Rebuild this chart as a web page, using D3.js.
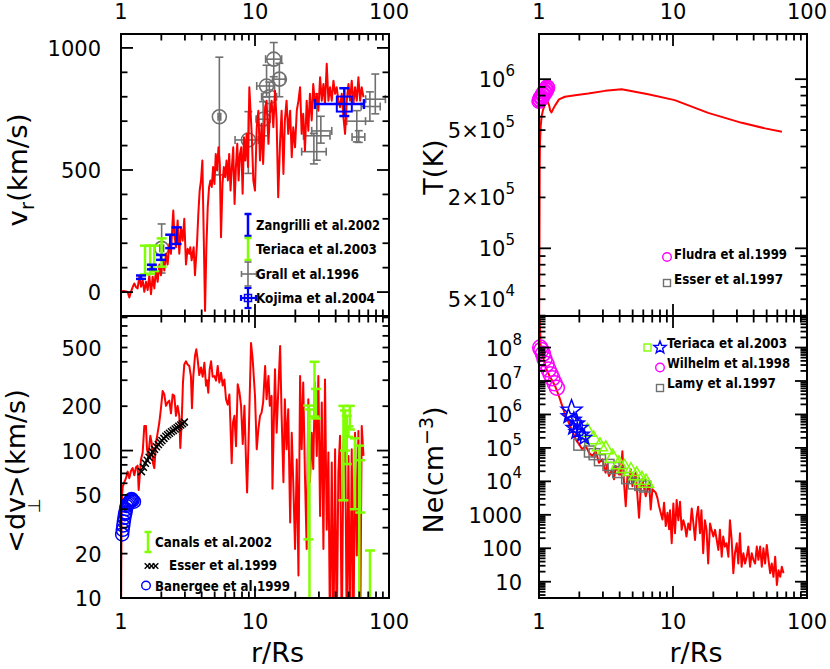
<!DOCTYPE html>
<html><head><meta charset="utf-8">
<script src="https://cdn.jsdelivr.net/npm/d3@7/dist/d3.min.js"></script>
<style>
html,body{margin:0;padding:0;background:#fff;}
svg{display:block;}
text{font-family:"DejaVu Sans",sans-serif;fill:#000;}
</style></head><body>
<svg id="chart" width="830" height="669"></svg>
<script>
// ---------------- tick labels ----------------
const xTickValues=[1,10,100];
const xTickLabels=["1","10","100"];
const vrTickValues=[0,500,1000];
const vrTickLabels=["0","500","1000"];
const dvTickValues=[10,20,50,100,200,500];
const dvTickLabels=["10","20","50","100","200","500"];
const tTickValues=[5e4,1e5,2e5,5e5,1e6];
const tTickBases=["5×10","10","2×10","5×10","10"];
const tTickExps=["4","5","5","5","6"];
const neTickValues=[10,100,1000,1e4,1e5,1e6,1e7,1e8];
const neTickBases=["10","100","1000","10","10","10","10","10"];
const neTickExps=["","","","4","5","6","7","8"];

// ---------------- model: radial velocity ----------------
const vrR=[1.000,1.030,1.059,1.090,1.121,1.154,1.188,1.222,1.257,1.294,1.331,1.370,1.410,1.451,1.493,1.536,1.581,1.627,1.674,1.723,1.773,1.824,1.877,1.932,1.988,2.046,2.105,2.166,2.229,2.294,2.360,2.429,2.456,2.499,2.572,2.646,2.723,2.802,2.884,2.967,3.054,3.142,3.233,3.289,3.366,3.484,3.565,3.690,3.776,3.864,3.955,4.047,4.141,4.238,4.337,4.438,4.542,4.648,4.756,4.867,4.981,5.097,5.216,5.338,5.462,5.576,5.720,5.854,5.990,6.130,6.273,6.419,6.569,6.722,6.879,7.040,7.204,7.372,7.544,7.720,7.900,8.085,8.273,8.466,8.664,8.866,9.073,
9.45,9.72,10.0,10.3,10.6,10.9,11.2,11.5,11.9,12.2,12.6,12.9,13.3,13.7,14.1,14.5,14.9,15.4,15.8,16.3,16.7,17.2,17.7,18.3,18.8,19.3,19.9,20.5,21.1,21.7,22.3,22.9,23.6,24.3,25.0,25.7,26.5,27.2,28.0,28.9,29.7,30.6,31.5,32.4,33.3,34.3,35.3,36.3,37.4,38.5,39.6,40.7,41.9,43.1,44.4,45.7,47.0,48.4,49.8,51.2,52.7,54.3,55.8,57.5,59.1,60.9,62.6,64.5];
const vrV=[5,3,4,2,0,-22,2,20,35,20,15,63,22,49,1,42,8,69,-9,63,15,93,42,113,69,130,88,157,113,197,157,293,334,238,184,293,157,266,211,300,113,177,157,184,130,184,69,197,320,416,457,539,238,-77,184,348,430,457,430,512,443,566,498,593,525,225,443,512,471,539,457,566,416,512,593,361,512,607,457,566,593,403,634,539,648,512,839,
648,457,416,675,743,539,689,525,757,784,607,730,784,675,825,703,388,620,743,484,703,784,648,743,552,675,593,743,784,839,648,730,579,784,661,812,703,852,771,812,743,880,784,852,771,935,784,839,784,866,812,839,784,757,812,716,648,784,852,784,866,771,839,784,880,784,839,798];

// observations for v_r
const zangR=[1.41,1.70,1.99,2.33,2.60];
const zangLo=[54,93,132,180,197];
const zangHi=[68,112,152,235,265];
const terVR=[1.51,1.65,1.77,2.01];
const terVLo=[72,75,86,104];
const terVHi=[190,190,190,220];
const grallR=[2.01,5.42,8.92,11.5,12.2,12.8,13.8,15.2,27.5,28.9,31.0,57.5,59.5,72.0,79.0];
const grallV=[179,718,623,708,844,800,954,872,575,640,660,700,635,760,790];
const grallRlo=[1.95,5.3,7.1,10.2,10.3,11.2,12.0,13.8,22.3,23.0,26.5,48.4,53.0,62.0,67.0];
const grallRhi=[2.08,5.55,10.6,13.0,14.0,14.5,15.8,16.8,34.0,36.3,37.4,66.8,66.0,86.0,94.0];
const grallVlo=[78,480,486,640,799,740,882,800,525,540,610,615,613,700,730];
const grallVhi=[279,962,739,780,929,860,1022,937,650,812,720,743,661,820,893];
const grallHasCircle=[1,1,1,1,1,1,1,1,0,0,0,0,0,0,0];
const kojR=[46.4], kojV=[770], kojRlo=[28.0], kojRhi=[65.0], kojVlo=[721], kojVhi=[835];

// ---------------- model: <dv_perp> ----------------
const dvR=[1.000,1.004,1.010,1.020,1.030,1.059,1.090,1.121,1.154,1.188,1.222,1.257,1.294,1.331,1.355,1.410,1.451,1.493,1.536,1.563,1.600,1.655,1.694,1.733,1.773,1.824,1.877,1.932,1.988,2.046,2.105,2.166,2.229,2.294,2.360,2.429,2.499,2.572,2.646,2.723,2.770,2.836,2.900,2.967,3.054,3.142,3.233,3.327,3.385,3.463,3.565,3.647,3.732,3.840,3.955,4.070,4.190,4.310,4.380,4.480,4.590,4.700,4.830,4.980,5.120,5.270,5.420,5.580,5.740,5.910,6.080,6.260,6.440,6.550,6.700,6.850,7.020,7.220,7.430,7.650,7.870,8.100,8.340,8.580,8.730,8.920,9.120,9.340,9.610,
10.0,10.3,10.6,10.9,11.2,11.5,11.9,12.2,12.6,12.9,13.3,13.5,13.9,14.1,14.5,14.9,15.4,15.8,16.3,16.7,17.2,17.7,18.3,18.8,19.3,19.9,20.5,21.1,21.7,22.3,22.9,23.6,24.3,25.0,25.7,26.5,27.2,28.0,28.9,29.7,30.6,31.5,32.4,33.3,34.3,35.3,36.3,37.4,38.5,39.6,40.7,41.9,43.1,44.4,45.7,47.0,48.4,49.8,51.2,52.7,54.3,55.8,57.5,59.1,60.9,62.6,64.5];
const dvV=[5,15,35,50,57,61,65,72,65,73,76,68,77,79,54,87,97,147,147,102,93,126,113,82,76,113,132,155,194,254,240,201,212,218,179,240,235,172,201,172,104,155,289,384,403,384,375,317,194,317,438,486,416,325,366,317,394,276,300,247,357,403,317,320,298,375,289,337,276,303,222,205,240,155,82,155,172,107,282,250,201,111,201,82,52,102,222,536,416,
235,102,140,172,181,212,375,223,321,201,235,55,201,356,132,247,512,172,61,223,102,191,32.5,132,61,21.5,87,14.2,321,102,289,67,21.5,223,61,132,75,289,92,321,36,212,21.5,304,29,97,5,83,5,102,5,71,126,5,108,172,5,92,5,102,5,132,19.4,136,5,147,92];

const canR=[25.0,25.5,27.8,28.5,45.7,47.0,48.4,49.8,51.0,55.7,60.0,61.0,72.1];
const canLo=[25,5,170,165,46,100,81,124,139,40,5,38,5];
const canHi=[202,190,400,262,201,187,172,146,201,121,108,86,21];
const esser99R=[1.42,1.47,1.52,1.57,1.62,1.67,1.72,1.78,1.84,1.90,1.96,2.02,2.09,2.16,2.23,2.30,2.38,2.46,2.54,2.62,2.70,2.79,2.88,2.97];
const esser99V=[72,77,82,86,90,94,98,102,106,110,114,117,121,125,128,131,134,137,140,143,146,149,152,156];
const banR=[1.02,1.03,1.04,1.05,1.06,1.07,1.08,1.09,1.10,1.12,1.14,1.16,1.18,1.20,1.22,1.25];
const banV=[27,29,31,33,35,37,38,40,42,43,44,45,46,47,46,45];

// ---------------- model: temperature ----------------
const tR=[1.000,1.008,1.012,1.017,1.030,1.046,1.070,1.100,1.128,1.160,1.190,1.210,1.240,1.280,1.320,1.410,1.560,1.860,2.330,3.110,4.140,6.530,10.30,18.30,32.60,48.60,65.00];
const tT=[2e4,1e5,3e5,4.2e5,5.3e5,6.0e5,6.56e5,7.0e5,7.2e5,7.4e5,7.0e5,6.56e5,6.36e5,6.7e5,7.0e5,7.6e5,7.87e5,8.04e5,8.22e5,8.53e5,8.73e5,8.15e5,7.52e5,6.32e5,5.52e5,5.12e5,4.89e5];
const fludR=[1.00,1.01,1.02,1.03,1.04,1.05,1.06,1.07,1.08,1.09,1.10,1.11,1.12,1.13,1.14,1.15,1.16];
const fludT=[7.4e5,7.6e5,7.5e5,7.8e5,7.9e5,7.7e5,8.1e5,8.2e5,8.0e5,8.4e5,8.5e5,8.3e5,8.7e5,8.8e5,8.6e5,9.0e5,8.9e5];

// ---------------- model: electron density ----------------
const neR=[1.005,1.015,1.030,1.060,1.100,1.150,1.200,1.260,1.330,1.410,1.490,1.580,1.670,1.770,1.880,1.990,2.100,2.230,2.360,2.500,2.650,2.800,2.970,3.140,3.230,3.330,3.530,3.630,3.740,3.960,4.070,4.190,4.310,4.440,4.570,4.700,4.840,4.980,5.270,5.580,5.740,5.910,6.260,6.630,6.820,7.020,7.430,7.650,7.870,8.340,8.580,8.830,9.090,9.350,
9.50,9.78,10.06,10.35,10.65,10.96,11.28,11.6,11.94,12.3,12.6,13.0,13.4,13.8,14.2,14.6,15.0,15.4,15.9,16.3,16.8,17.3,17.8,18.3,18.9,19.4,20.0,20.6,21.2,21.8,22.4,23.1,23.7,24.4,25.1,25.9,26.6,27.4,28.2,29.0,29.9,30.7,31.6,32.5,33.5,34.5,35.5,36.5,37.6,38.7,39.8,41.0,42.2,43.4,44.7,46.0,47.3,48.7,50.1,51.6,53.1,54.6,56.2,57.9,59.6,61.3,63.1,64.9,66.8];
const neN=[2e9,5e8,1.1e8,6e7,3.5e7,2e7,1.4e7,1.0e7,6.5e6,3.5e6,1.8e6,8.9e5,5.6e5,3.2e5,1.8e5,1.28e5,9.1e4,1.15e5,7.2e4,5.7e4,8.1e4,3.6e4,4.6e4,1.8e4,3.2e4,1.45e4,2.3e4,1.15e4,2.9e4,1.6e4,1.6e4,8e4,9e3,1.8e3,1.45e4,9e3,2.3e4,7.2e3,1.8e4,820,5.8e3,1.15e4,3.6e3,9.1e3,1.45e3,5.8e3,4.6e3,3.2e3,1.8e3,720,2.3e3,460,1.15e3,370,
1380,141,2190,282,2750,692,2450,355,692,447,224,550,355,1550,550,178,871,1740,282,1380,71,692,355,35,550,355,224,355,178,89,355,56,224,112,141,56,692,178,18,71,141,35,282,28,71,35,56,112,28,71,45,35,112,45,112,28,100,35,126,45,18,35,14,56,8,22,14,28,18];
const wilR=[1.02,1.04,1.07,1.10,1.14,1.18,1.22,1.26,1.31,1.36];
const wilN=[1e8,8.5e7,6.5e7,4.5e7,3.2e7,2.2e7,1.6e7,1.2e7,8.5e6,6.3e6];
const terStarR=[1.75,1.66,1.82,1.93,1.80,2.05,1.90,2.10,2.18];
const terStarN=[1.3e6,8.9e5,7e5,5.4e5,4e5,4e5,3e5,2.5e5,2e5];
const terTriR=[2.30,2.55,2.85,3.15,3.55,3.95,4.35,4.85,5.35,5.85,6.30];
const terTriN=[3e5,1.8e5,1.1e5,9e4,5e4,3.2e4,2.5e4,2e4,1.5e4,1.1e4,9e3];
const lamyR=[2.0,2.4,2.6,2.85,3.3,3.6,3.9,4.55,5.1,5.7,6.2];
const lamyN=[1.25e5,7.8e4,6.5e4,4.3e4,3.1e4,2.5e4,1.9e4,1.25e4,8.7e3,7.8e3,7e3];

// ---------------- colours ----------------
const RED="#ff0000", BLUE="#0000ff", GREEN="#80ff00", GRAY="#707070", MAG="#ff00ff";

// ---------------- scales ----------------
const svg=d3.select("#chart");
const xL=d3.scaleLog().domain([1,100]).range([121,389]);
const xR=d3.scaleLog().domain([1,100]).range([539,807]);
const yV=d3.scaleLinear().domain([-98,1057]).range([316,34]);
const yD=d3.scaleLog().domain([10,818]).range([598,316]);
const yT=d3.scaleLog().domain([3.98e4,1.85e6]).range([316,34]);
const yN=d3.scaleLog().domain([3.26,8.77e8]).range([598,316]);

function logMinor(lo,hi){
  const out=[];
  for(let e=Math.floor(Math.log10(lo));e<=Math.ceil(Math.log10(hi));e++){
    const d=Math.pow(10,e);
    for(let k=2;k<10;k++){const v=k*d; if(v>lo*1.001&&v<hi*0.999) out.push(v);}
  }
  return out;
}
function logMajor(lo,hi){
  const out=[];
  for(let e=Math.ceil(Math.log10(lo)-1e-9);e<=Math.floor(Math.log10(hi)+1e-9);e++) out.push(Math.pow(10,e));
  return out;
}
function seg(g,x1,y1,x2,y2){g.append("line").attr("x1",x1).attr("y1",y1).attr("x2",x2).attr("y2",y2);}

function drawFrame(x,y,yMaj,yMin){
  const [X0,X1]=x.range(), [Y0,Y1]=y.range();
  const g=svg.append("g").attr("stroke","#000").attr("stroke-width",1.8).attr("fill","none");
  const L=12,S=6.5;
  const xMaj=logMajor(1,100), xMin=logMinor(1,100);
  xMaj.forEach(v=>{const p=x(v);seg(g,p,Y0,p,Y0-L);seg(g,p,Y1,p,Y1+L);});
  xMin.forEach(v=>{const p=x(v);seg(g,p,Y0,p,Y0-S);seg(g,p,Y1,p,Y1+S);});
  yMaj.forEach(v=>{const p=y(v);seg(g,X0,p,X0+L,p);seg(g,X1,p,X1-L,p);});
  yMin.forEach(v=>{const p=y(v);seg(g,X0,p,X0+S,p);seg(g,X1,p,X1-S,p);});
  g.append("rect").attr("x",X0).attr("y",Y1).attr("width",X1-X0).attr("height",Y0-Y1).attr("stroke-width",2);
}
function clipFor(id,x,y){
  const [X0,X1]=x.range(), [Y0,Y1]=y.range();
  svg.append("clipPath").attr("id",id).append("rect").attr("x",X0).attr("y",Y1).attr("width",X1-X0).attr("height",Y0-Y1);
  return "url(#"+id+")";
}
function xLabels(x,base){
  svg.append("g").selectAll("text").data(xTickValues).join("text")
    .attr("x",d=>x(d)).attr("y",base).attr("text-anchor","middle").attr("font-size",21)
    .text((d,i)=>xTickLabels[i]);
}
function yLabels(y,vals,bases,exps,right){
  const t=svg.append("g").selectAll("text").data(vals).join("text")
    .attr("x",right).attr("y",d=>y(d)+8).attr("text-anchor","end").attr("font-size",21);
  t.append("tspan").text((d,i)=>bases[i]);
  t.filter((d,i)=>exps[i]!=="").append("tspan").attr("font-size",15).attr("dy",-11)
    .text(d=>exps[vals.indexOf(d)]);
}
function redLine(x,y,rs,vs,clip){
  const pts=rs.map((r,i)=>[r,vs[i]]);
  svg.append("path").datum(pts).attr("clip-path",clip)
    .attr("fill","none").attr("stroke",RED).attr("stroke-width",2).attr("stroke-linejoin","round")
    .attr("d",d3.line().x(d=>x(d[0])).y(d=>y(d[1])));
}
function vbar(g,px,p1,p2,cap){seg(g,px,p1,px,p2);seg(g,px-cap,p1,px+cap,p1);seg(g,px-cap,p2,px+cap,p2);}
function hbar(g,py,p1,p2,cap){seg(g,p1,py,p2,py);seg(g,p1,py-cap,p1,py+cap);seg(g,p2,py-cap,p2,py+cap);}
function starPath(cx,cy,R){
  const ri=R*0.42;let p="";
  for(let i=0;i<10;i++){const a=-Math.PI/2+i*Math.PI/5,rr=i%2?ri:R;p+=(i?"L":"M")+(cx+rr*Math.cos(a)).toFixed(2)+","+(cy+rr*Math.sin(a)).toFixed(2);}
  return p+"Z";
}
function triPath(cx,cy,s){
  const h=s*Math.sqrt(3)/2;
  return "M"+cx+","+(cy-2*h/3)+"L"+(cx-s/2)+","+(cy+h/3)+"L"+(cx+s/2)+","+(cy+h/3)+"Z";
}
function xMark(g,cx,cy,s){seg(g,cx-s,cy-s,cx+s,cy+s);seg(g,cx-s,cy+s,cx+s,cy-s);}
function legendText(x,y,str,len){
  svg.append("text").attr("x",x).attr("y",y).attr("font-size",13.5).attr("font-weight","bold")
    .attr("textLength",len).attr("lengthAdjust","spacingAndGlyphs").text(str);
}

// ================= Panel 1: v_r =================
{
  const vrMinor=d3.range(100,1001,100).filter(v=>v%500!==0);
  const clip=clipFor("c1",xL,yV);
  const gg=svg.append("g").attr("stroke",GRAY).attr("stroke-width",1.6).attr("fill","none");
  grallR.forEach((r,i)=>{
    vbar(gg,xL(r),yV(grallVlo[i]),yV(grallVhi[i]),4);
    hbar(gg,yV(grallV[i]),xL(grallRlo[i]),xL(grallRhi[i]),4);
    if(grallHasCircle[i]) gg.append("circle").attr("cx",xL(r)).attr("cy",yV(grallV[i])).attr("r",7);
  });
  redLine(xL,yV,vrR,vrV,clip);
  const gt=svg.append("g").attr("stroke",GREEN).attr("stroke-width",2.5);
  terVR.forEach((r,i)=>vbar(gt,xL(r),yV(terVLo[i]),yV(terVHi[i]),5));
  const gz=svg.append("g").attr("stroke",BLUE).attr("stroke-width",2.5);
  zangR.forEach((r,i)=>vbar(gz,xL(r),yV(zangLo[i]),yV(zangHi[i]),5));
  const gk=svg.append("g").attr("stroke",BLUE).attr("stroke-width",2.5).attr("fill","none");
  kojR.forEach((r,i)=>{
    vbar(gk,xL(r),yV(kojVlo[i]),yV(kojVhi[i]),5);
    hbar(gk,yV(kojV[i]),xL(kojRlo[i]),xL(kojRhi[i]),5);
    gk.append("rect").attr("x",xL(r)-7.5).attr("y",yV(kojV[i])-7.5).attr("width",15).attr("height",15).attr("stroke-width",2);
  });
  drawFrame(xL,yV,vrTickValues,vrMinor);
  xLabels(xL,18.5);
  yLabels(yV,vrTickValues,vrTickLabels,vrTickLabels.map(()=>""),101);
  const lz=svg.append("g").attr("stroke",BLUE).attr("stroke-width",2.5); vbar(lz,248,214,236,3.5);
  const lt=svg.append("g").attr("stroke",GREEN).attr("stroke-width",2.5); vbar(lt,248,238,260,3.5);
  const lg=svg.append("g").attr("stroke",GRAY).attr("stroke-width",1.6); vbar(lg,248,262,286,3.5); hbar(lg,274,241.5,256.5,3);
  const lk=svg.append("g").attr("stroke",BLUE).attr("stroke-width",2.2).attr("fill","none"); vbar(lk,248,288,308,3.5); hbar(lk,298,241,256,3);
  lk.append("rect").attr("x",244.5).attr("y",294.5).attr("width",7).attr("height",7).attr("stroke-width",1.5);
  legendText(256,230,"Zangrilli et al.2002",124);
  legendText(256,254,"Teriaca et al.2003",121);
  legendText(256,279,"Grall et al.1996",103);
  legendText(256,303,"Kojima et al.2004",119);
  svg.append("text").attr("transform","translate(27,170) rotate(-90)").attr("text-anchor","middle").attr("font-size",27)
    .attr("textLength",113).attr("lengthAdjust","spacingAndGlyphs")
    .call(t=>{t.append("tspan").text("v");t.append("tspan").attr("font-size",19).attr("dy",7).text("r");t.append("tspan").attr("dy",-7).text("(km/s)");});
}

// ================= Panel 2: <dv_perp> =================
{
  const clip=clipFor("c2",xL,yD);
  redLine(xL,yD,dvR,dvV,clip);
  const ge=svg.append("g").attr("stroke","#000").attr("stroke-width",1.5);
  esser99R.forEach((r,i)=>xMark(ge,xL(r),yD(esser99V[i]),3.5));
  const gb=svg.append("g").attr("stroke",BLUE).attr("stroke-width",1.5).attr("fill","none");
  banR.forEach((r,i)=>gb.append("circle").attr("cx",xL(r)).attr("cy",yD(banV[i])).attr("r",6.5));
  const gc=svg.append("g").attr("stroke",GREEN).attr("stroke-width",2.5).attr("clip-path",clip);
  canR.forEach((r,i)=>vbar(gc,xL(r),yD(canLo[i]),yD(canHi[i]),5));
  drawFrame(xL,yD,logMajor(10,818),logMinor(10,818));
  xLabels(xL,628.5);
  yLabels(yD,dvTickValues,dvTickLabels,dvTickLabels.map(()=>""),101.5);
  const lc=svg.append("g").attr("stroke",GREEN).attr("stroke-width",2.5); vbar(lc,148,532,552,3.5);
  const le=svg.append("g").attr("stroke","#000").attr("stroke-width",1.4);
  [147.5,151.5,155.5].forEach(cx=>xMark(le,cx,566,2.8));
  svg.append("circle").attr("cx",146).attr("cy",585.5).attr("r",4.3).attr("fill","none").attr("stroke",BLUE).attr("stroke-width",1.4);
  legendText(155,547,"Canals et al.2002",117);
  legendText(169,570,"Esser et al.1999",108);
  legendText(155,591,"Banergee et al.1999",135);
  svg.append("text").attr("transform","translate(25,471) rotate(-90)").attr("text-anchor","middle").attr("font-size",27)
    .call(t=>{t.append("tspan").text("<dv");t.append("tspan").attr("font-size",17).attr("dx",-16).attr("dy",15).text("⊥");t.append("tspan").attr("dx",0).attr("dy",-15).text(">(km/s)");});
  svg.append("text").attr("x",277.5).attr("y",661.5).attr("text-anchor","middle").attr("font-size",27).text("r/Rs");
}

// ================= Panel 3: T =================
{
  const clip=clipFor("c3",xR,yT);
  redLine(xR,yT,tR,tT,clip);
  const gf=svg.append("g").attr("stroke",MAG).attr("stroke-width",1.5).attr("fill","none");
  fludR.forEach((r,i)=>gf.append("circle").attr("cx",xR(r)).attr("cy",yT(fludT[i])).attr("r",7));
  drawFrame(xR,yT,logMajor(3.98e4,1.85e6),logMinor(3.98e4,1.85e6));
  xLabels(xR,18.5);
  yLabels(yT,tTickValues,tTickBases,tTickExps,515);
  svg.append("circle").attr("cx",667).attr("cy",257).attr("r",4.3).attr("fill","none").attr("stroke",MAG).attr("stroke-width",1.4);
  svg.append("rect").attr("x",663.5).attr("y",279.5).attr("width",7).attr("height",7).attr("fill","none").attr("stroke",GRAY).attr("stroke-width",1.4);
  legendText(674,259,"Fludra et al.1999",113);
  legendText(674,284,"Esser et al.1997",109);
  svg.append("text").attr("transform","translate(443,167) rotate(-90)").attr("text-anchor","middle").attr("font-size",27).text("T(K)");
}

// ================= Panel 4: Ne =================
{
  const clip=clipFor("c4",xR,yN);
  redLine(xR,yN,neR,neN,clip);
  const gl=svg.append("g").attr("stroke",GRAY).attr("stroke-width",1.5).attr("fill","none");
  lamyR.forEach((r,i)=>gl.append("rect").attr("x",xR(r)-5.5).attr("y",yN(lamyN[i])-5.5).attr("width",11).attr("height",11));
  const gtr=svg.append("g").attr("stroke",GREEN).attr("stroke-width",1.5).attr("fill","none");
  terTriR.forEach((r,i)=>gtr.append("path").attr("d",triPath(xR(r),yN(terTriN[i]),15)));
  const gs=svg.append("g").attr("stroke",BLUE).attr("stroke-width",1.5).attr("fill","none");
  terStarR.forEach((r,i)=>gs.append("path").attr("d",starPath(xR(r),yN(terStarN[i]),i===0?11:7.5)));
  const gw=svg.append("g").attr("stroke",MAG).attr("stroke-width",1.5).attr("fill","none");
  wilR.forEach((r,i)=>gw.append("circle").attr("cx",xR(r)).attr("cy",yN(wilN[i])).attr("r",7.5));
  drawFrame(xR,yN,logMajor(3.26,8.77e8),logMinor(3.26,8.77e8));
  xLabels(xR,628.5);
  yLabels(yN,neTickValues,neTickBases,neTickExps,522);
  svg.append("rect").attr("x",644).attr("y",344).attr("width",7).attr("height",7).attr("fill","none").attr("stroke",GREEN).attr("stroke-width",1.4);
  svg.append("path").attr("d",starPath(660,347.5,6.5)).attr("fill","none").attr("stroke",BLUE).attr("stroke-width",1.4);
  svg.append("circle").attr("cx",660).attr("cy",367.5).attr("r",4.3).attr("fill","none").attr("stroke",MAG).attr("stroke-width",1.4);
  svg.append("rect").attr("x",656.5).attr("y",384.5).attr("width",7).attr("height",7).attr("fill","none").attr("stroke",GRAY).attr("stroke-width",1.4);
  legendText(667,348,"Teriaca et al.2003",120);
  legendText(667,368,"Wilhelm et al.1998",123);
  legendText(667,388,"Lamy et al.1997",109);
  svg.append("text").attr("transform","translate(443,470) rotate(-90)").attr("text-anchor","middle").attr("font-size",27)
    .call(t=>{t.append("tspan").text("Ne(cm");t.append("tspan").attr("font-size",19).attr("dy",-10).text("−3");t.append("tspan").attr("dy",10).text(")");});
  svg.append("text").attr("x",696).attr("y",661.5).attr("text-anchor","middle").attr("font-size",27).text("r/Rs");
}
</script>
</body></html>
